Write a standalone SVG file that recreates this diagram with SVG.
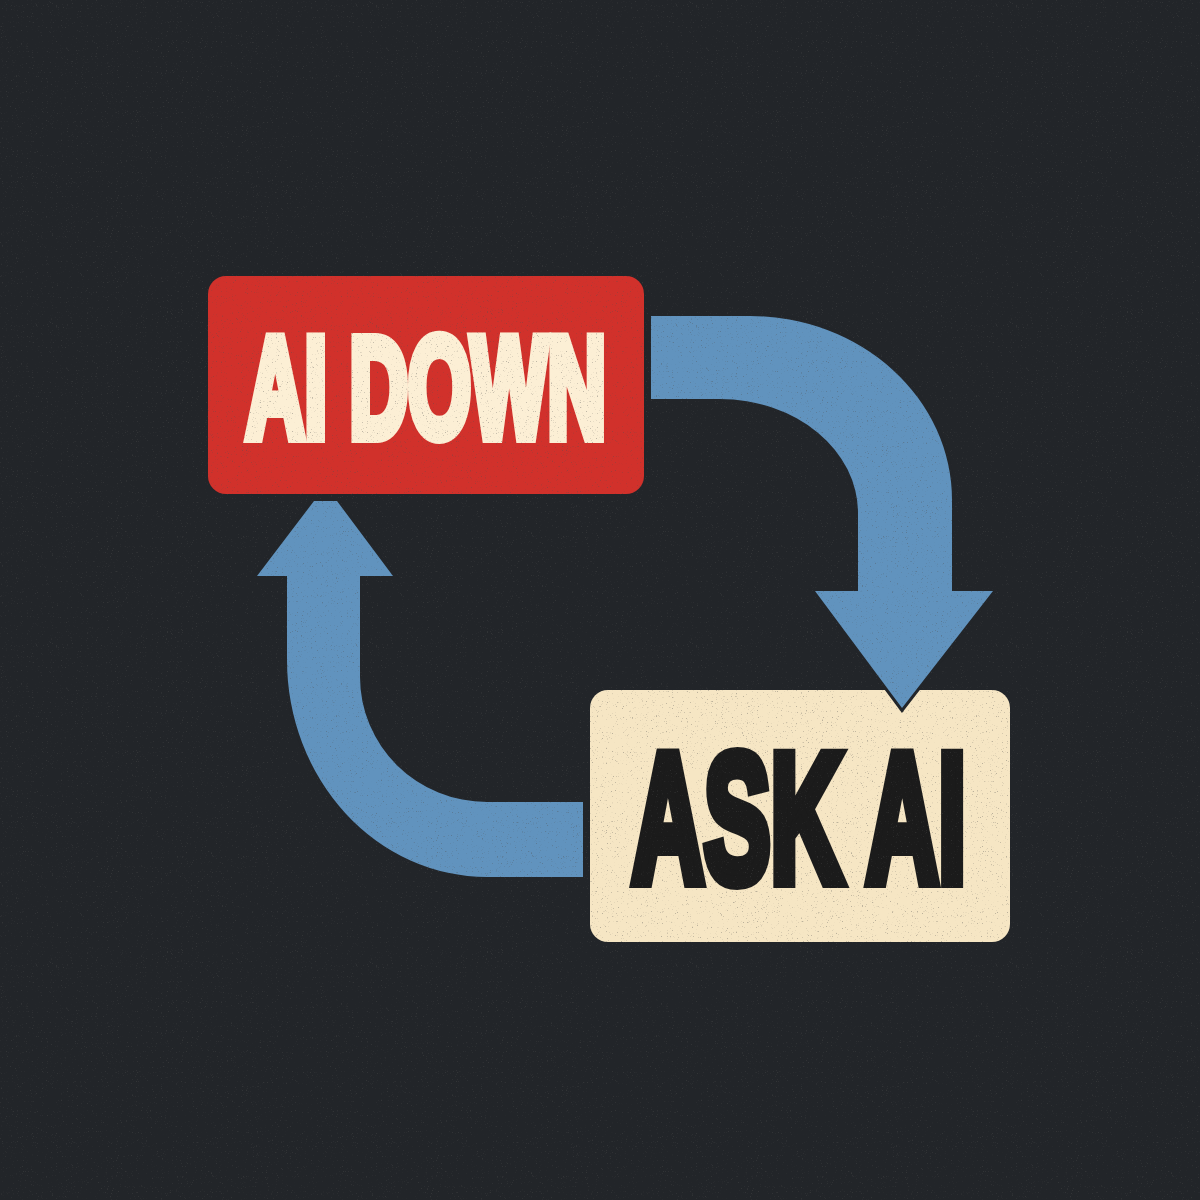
<svg xmlns="http://www.w3.org/2000/svg" width="1200" height="1200" viewBox="0 0 1200 1200">
  <style>
    .bg { fill: #222529; }
    .arrow { fill: #6193be; stroke: #222529; stroke-width: 6; stroke-linejoin: miter; paint-order: stroke; }
    .label { font-family: "Liberation Sans", Arial, sans-serif; font-weight: bold; stroke-linejoin: miter; }
  </style>
  <defs>
    <filter id="grain" x="0" y="0" width="100%" height="100%" filterUnits="userSpaceOnUse">
      <feTurbulence type="fractalNoise" baseFrequency="0.8" numOctaves="2" seed="7" result="n"/>
      <feColorMatrix in="n" type="matrix" values="0 0 0 0 0.08  0 0 0 0 0.08  0 0 0 0 0.08  7 0 0 0 -4.6"/>
    </filter>
  </defs>
  <rect class="bg" x="0" y="0" width="1200" height="1200"/>
  <g id="connectors">
    <path id="arrow-up" class="arrow" d="M 314 501 L 337 501 L 393 576 L 360 576 L 360 677 A 127 125 0 0 0 487 802 L 583 802 L 583 877 L 487 877 A 200 217 0 0 1 287 660 L 287 576 L 257 576 Z"/>
  </g>
  <g id="node-ai-down">
    <rect x="208" y="276" width="436" height="218" rx="18" ry="18" fill="#d1312b"/>
    <text class="label" x="246" y="437" font-size="142" fill="#fcefd5" stroke="#fcefd5" stroke-width="12" textLength="360" lengthAdjust="spacingAndGlyphs">AI DOWN</text>
  </g>
  <g id="node-ask-ai">
    <rect x="590" y="690" width="420" height="252" rx="18" ry="18" fill="#f6e6c4"/>
    <text class="label" x="632" y="881" font-size="182" fill="#1b1b1b" stroke="#1b1b1b" stroke-width="14" textLength="334" lengthAdjust="spacingAndGlyphs">ASK AI</text>
  </g>
  <g id="connectors-2">
    <path id="arrow-down" class="arrow" d="M 651 316 L 750 316 A 202 184 0 0 1 952 500 L 952 591 L 993 591 L 902 708 L 815 591 L 858 591 L 858 513 A 138 114 0 0 0 720 399 L 651 399 Z"/>
  </g>
  <rect x="0" y="0" width="1200" height="1200" filter="url(#grain)" opacity="0.35" pointer-events="none"/>
</svg>
